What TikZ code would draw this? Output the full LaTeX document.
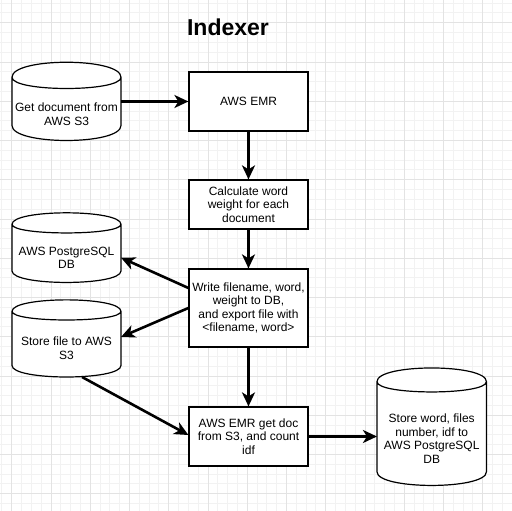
\documentclass[tikz,border=0pt]{standalone}
\usepackage{fontspec}
\setmainfont{Liberation Sans}
\usepackage{tikz}
\usetikzlibrary{arrows.meta,calc}

\pgfdeclarelayer{grid}
\pgfdeclarelayer{back}
\pgfsetlayers{grid,back,main}

\tikzset{
  gridminor/.style={draw=black!5,line width=0.8pt},
  gridmajor/.style={draw=black!11,line width=0.8pt},
  title/.style={anchor=base,font=\fontsize{23}{27}\selectfont\bfseries},
  proc/.style={draw,line width=1.2pt,fill=white,minimum width=119pt,inner sep=2pt,align=center,font=\fontsize{12}{13.6}\selectfont},
  store/.style={minimum width=109pt,inner sep=0pt,outer sep=0pt,align=center,font=\fontsize{12}{13.6}\selectfont},
  drumline/.style={draw,fill=white,line width=1.2pt},
  flow/.style={-{Stealth[length=14pt,width=13pt,inset=4pt]},line width=2.6pt}
}

% drawio-like cylinder round a store node, #2 = cap size
\newcommand{\drum}[2]{%
  \filldraw[drumline] let \p1=(#1.north west), \p2=(#1.south east) in
    (\x1,\y1+0.75*#2) -- (\x1,\y2+#2)
    .. controls (\x1,\y2-#2/3) and (\x2,\y2-#2/3) .. (\x2,\y2+#2)
    -- (\x2,\y1+0.75*#2)
    .. controls (\x2,\y1+1.75*#2+#2/3) and (\x1,\y1+1.75*#2+#2/3) .. (\x1,\y1+0.75*#2)
    (\x1,\y1+0.75*#2) .. controls (\x1,\y1-0.25*#2) and (\x2,\y1-0.25*#2) .. (\x2,\y1+0.75*#2);
}

\begin{document}
\begin{tikzpicture}[x=1pt,y=1pt]
  \useasboundingbox (0,0) rectangle (512,511);
  \begin{pgfonlayer}{grid}
    \fill[white] (0,0) rectangle (512,511);
    \foreach \k in {-2,...,51} {
      \draw[gridminor] ({11.7+\k*9.8125},0) -- ++(0,511);
      \draw[gridminor] (0,{488.3-\k*9.8125}) -- ++(512,0);
    }
    \foreach \k in {0,...,12} {
      \draw[gridmajor] ({11.7+\k*39.25},0) -- ++(0,511);
      \draw[gridmajor] (0,{488.3-\k*39.25}) -- ++(512,0);
    }
  \end{pgfonlayer}

  \node[title] (title) at (228,475) {Indexer};

  \node[store,minimum height=52pt] (getdoc) at (66.5,396.5) {Get document from\\AWS S3};
  \node[store,minimum height=49.5pt] (pgdb) at (66.5,253.3) {AWS PostgreSQL\\DB};
  \node[store,minimum height=57pt] (s3file) at (66.5,162.5) {Store file to AWS\\S3};
  \node[store,minimum width=109.5pt,minimum height=93.5pt] (idfdb) at (431.7,72.3) {Store word, files\\number, idf to\\AWS PostgreSQL\\DB};

  \node[proc,minimum height=59pt] (emr) at (248.5,409.5) {AWS EMR};
  \node[proc,minimum height=49pt] (weight) at (248.5,306.5) {Calculate word\\weight for each\\document};
  \node[proc,minimum height=78pt] (export) at (248.5,203) {Write filename, word,\\weight to DB,\\and export file with\\<filename, word>};
  \node[proc,minimum height=59pt] (idf) at (248.5,74.5) {AWS EMR get doc\\from S3, and count\\idf};

  \begin{pgfonlayer}{back}
    \drum{getdoc}{15pt}
    \drum{pgdb}{11.5pt}
    \drum{s3file}{11.5pt}
    \drum{idfdb}{13.7pt}
  \end{pgfonlayer}

  \draw[flow] (getdoc.east |- emr.west) -- (emr.west);
  \draw[flow] (emr) -- (weight);
  \draw[flow] (weight) -- (export);
  \draw[flow] ([yshift=20pt]export.west) -- (pgdb.east);
  \draw[flow] (export.west) -- ([yshift=11.5pt]s3file.east);
  \draw[flow] (export) -- (idf);
  \draw[flow] ([xshift=15.5pt]s3file.south) -- ([yshift=1.5pt]idf.west);
  \draw[flow] (idf.east) -- (idf.east -| idfdb.west);
\end{tikzpicture}
\end{document}
